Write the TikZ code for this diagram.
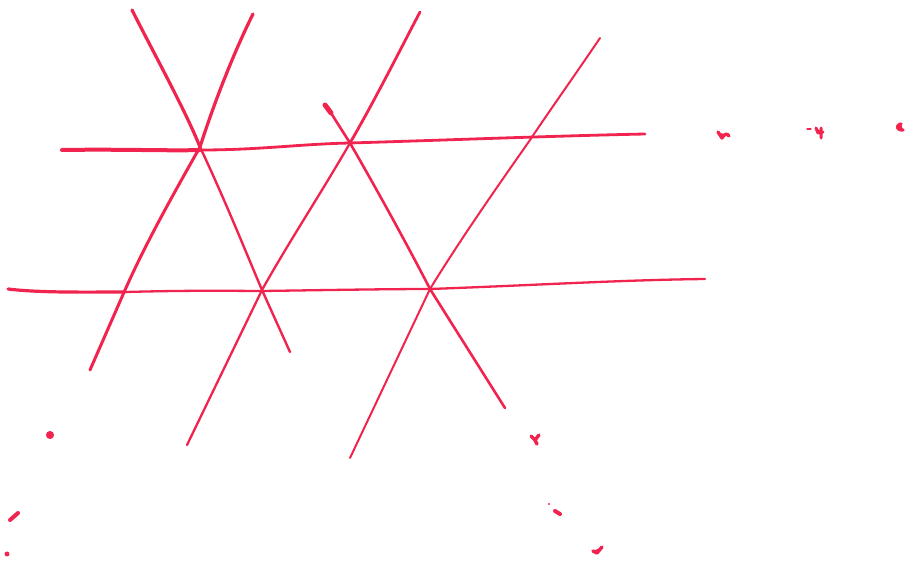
\documentclass[tikz,border=0pt]{standalone}
\definecolor{ink}{RGB}{240,36,78}
\tikzset{
  pen/.style={draw=ink, line width=2.3pt, line cap=round, line join=round},
  heavy/.style={pen, line width=3.4pt},
  blob/.style={draw=ink, fill=ink, line width=3.4pt, line cap=round, line join=round}
}
\begin{document}
\begin{tikzpicture}[x=1pt,y=-1pt]
\useasboundingbox (0,0) rectangle (908,568);
% horizontal strokes
\draw[heavy, line width=4pt] (62,150) .. controls (120,149) and (170,151) .. (200,150);
\draw[pen, line width=2.8pt] (200,150) .. controls (260,150) and (300,144) .. (350,143)
  .. controls (450,140) and (550,136) .. (645,134);
\draw[heavy, line width=3.2pt] (8,289) .. controls (40,293) and (90,292) .. (125,292);
\draw[pen] (125,292) .. controls (200,290) and (240,291) .. (262,291)
  .. controls (330,290) and (390,289) .. (430,289)
  .. controls (540,285) and (620,280) .. (705,279);
% oblique strokes
\draw[heavy, line width=3.2pt] (132,10) .. controls (160,65) and (185,110) .. (200,147);
\draw[pen, line width=2.4pt] (200,147) .. controls (225,200) and (245,250) .. (262,290) -- (290,352);
\draw[heavy, line width=3.2pt] (253,14) .. controls (235,50) and (215,100) .. (200,147);
\draw[pen, line width=3pt] (200,147) .. controls (170,200) and (145,245) .. (125,290) -- (90,370);
\draw[pen, line width=2.8pt] (420,12) .. controls (400,50) and (375,100) .. (350,143);
\draw[pen] (350,143) .. controls (320,195) and (290,240) .. (262,290) -- (187,445);
\draw[heavy, line width=5pt] (325,105) -- (331,113);
\draw[pen, line width=2.6pt] (331,113) -- (350,143) .. controls (380,195) and (410,250) .. (430,289) -- (505,408);
\draw[pen, line width=2pt] (600,38) .. controls (575,75) and (550,110) .. (530,140)
  .. controls (495,190) and (460,240) .. (430,289) -- (350,458);
% ink marks
\draw[blob] (718,132) -- (722,138) .. controls (724,134) and (727,133) .. (729,136);
\draw[pen, line width=1.2pt] (807,129) -- (811,129);
\draw[blob, line width=3pt] (816,128) -- (818,133) -- (823,132) (821,128) -- (821,138);
\draw[blob] (901,124) .. controls (896,125) and (896,130) .. (903,130);
\draw[blob, line width=1pt] (50,435) circle (3.5pt);
\draw[blob, line width=4pt] (10,520) -- (18,513);
\draw[blob, line width=1pt] (7,554) circle (2pt);
\draw[blob] (531,436) -- (535,440) -- (537,444) (535,440) -- (539,435);
\draw[blob, line width=4pt] (555,511) -- (560,514);
\draw[pen, line width=0.6pt] (549,504) circle (0.6pt);
\draw[blob] (593,551) -- (597,553) -- (602,547);
\end{tikzpicture}
\end{document}
